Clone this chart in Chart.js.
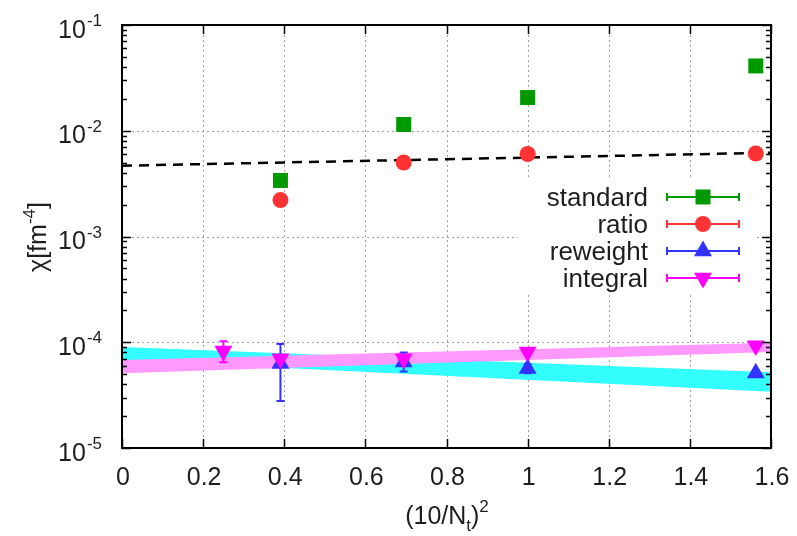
<!DOCTYPE html>
<html><head><meta charset="utf-8">
<script src="https://cdn.jsdelivr.net/npm/chart.js@4.4.0/dist/chart.umd.min.js"></script>
<style>html,body{margin:0;padding:0;background:#fff}</style>
</head><body>
<canvas id="c" width="797" height="536"></canvas>
<script>
// ---- data ----
const xTickValues = [0, 0.2, 0.4, 0.6, 0.8, 1.0, 1.2, 1.4, 1.6];
const xTickLabels = ['0', '0.2', '0.4', '0.6', '0.8', '1', '1.2', '1.4', '1.6'];
const yTickValues = [1e-5, 1e-4, 1e-3, 1e-2, 1e-1];
const yTickExponents = ['-5', '-4', '-3', '-2', '-1'];

const standardX = [0.390625, 0.694444, 1.0, 1.5625];
const standardY = [3.39e-3, 1.146e-2, 2.06e-2, 4.1e-2];
const ratioX = [0.390625, 0.694444, 1.0, 1.5625];
const ratioY = [2.21e-3, 5.01e-3, 6.03e-3, 6.09e-3];
const reweightX = [0.390625, 0.694444, 1.0, 1.5625];
const reweightY = [6.3e-5, 6.5e-5, 5.63e-5, 5.1e-5];
const reweightLo = [2.78e-5, 5.3e-5, 5.1e-5, 4.9e-5];
const reweightHi = [9.6e-5, 8.0e-5, 6.2e-5, 5.3e-5];
const integralX = [0.25, 0.390625, 0.694444, 1.0, 1.5625];
const integralY = [8.26e-5, 6.98e-5, 6.98e-5, 8.1e-5, 9.3e-5];
const integralLo = [6.46e-5, 6.6e-5, 6.6e-5, 7.8e-5, 9.0e-5];
const integralHi = [1.02e-4, 7.4e-5, 7.4e-5, 8.4e-5, 9.6e-5];

const fitX = [0, 1.6];
const fitY = [4.67e-3, 6.2e-3];
const bandX = [0, 1.6];
const cyanUpper = [9.0e-5, 5.2e-5];
const cyanLower = [6.8e-5, 3.4e-5];
const pinkUpper = [6.8e-5, 9.9e-5];
const pinkLower = [5.1e-5, 8.1e-5];

const legendNames = ['standard', 'ratio', 'reweight', 'integral'];
const xTitle = ['(10/N', 't', ')', '2'];
const yTitle = ['χ[fm', '-4', ']'];

// ---- helpers ----
const pts = (xs, ys) => xs.map((x, i) => ({x: x, y: ys[i]}));
const FONT = '"Liberation Sans", Arial, sans-serif';
const TXT = '#1e1e1e';
const GREEN = '#009900', RED = '#ff3333', BLUE = '#3333ff', MAG = '#ff00ff';

const datasets = [
  {label: 'standard', data: pts(standardX, standardY), showLine: false, pointStyle: 'rect',
   pointRadius: 10.6, backgroundColor: GREEN, borderWidth: 0, order: 1},
  {label: 'ratio', data: pts(ratioX, ratioY), showLine: false, pointStyle: 'circle',
   pointRadius: 8, backgroundColor: RED, borderWidth: 0, order: 2},
  {label: 'reweight', data: pts(reweightX, reweightY), showLine: false, pointStyle: 'triangle',
   pointRadius: 10.4, backgroundColor: BLUE, borderWidth: 0, order: 4,
   errLo: reweightLo, errHi: reweightHi},
  {label: 'integral', data: pts(integralX, integralY), showLine: false, pointStyle: 'triangle',
   pointRotation: 180, pointRadius: 10.4, backgroundColor: MAG, borderWidth: 0, order: 3,
   errLo: integralLo, errHi: integralHi},
  {type: 'line', label: 'fit', data: pts(fitX, fitY), borderColor: '#000', borderWidth: 2.5,
   borderDash: [10, 7], pointRadius: 0, fill: false, order: 9},
  {type: 'line', label: 'cyanLo', data: pts(bandX, cyanLower), borderWidth: 0, pointRadius: 0,
   fill: false, order: 13},
  {type: 'line', label: 'cyanHi', data: pts(bandX, cyanUpper), borderWidth: 0, pointRadius: 0,
   fill: '-1', backgroundColor: '#33ffff', order: 12},
  {type: 'line', label: 'pinkLo', data: pts(bandX, pinkLower), borderWidth: 0, pointRadius: 0,
   fill: false, order: 11},
  {type: 'line', label: 'pinkHi', data: pts(bandX, pinkUpper), borderWidth: 0, pointRadius: 0,
   fill: '-1', backgroundColor: '#ff99ff', order: 10},
];

function drawMarker(ctx, style, x, y, r, color, rot) {
  ctx.save();
  ctx.fillStyle = color;
  ctx.beginPath();
  if (style === 'rect') {
    const s = Math.SQRT1_2 * r;
    ctx.rect(x - s, y - s, 2 * s, 2 * s);
  } else if (style === 'circle') {
    ctx.arc(x, y, r, 0, Math.PI * 2);
  } else {
    let a = rot ? Math.PI : 0;
    for (let k = 0; k < 3; k++) {
      const px = x + Math.sin(a) * r, py = y - Math.cos(a) * r;
      if (k === 0) ctx.moveTo(px, py); else ctx.lineTo(px, py);
      a += 2 * Math.PI / 3;
    }
    ctx.closePath();
  }
  ctx.fill();
  ctx.restore();
}

const custom = {
  id: 'custom',
  beforeDatasetsDraw(chart) {
    const ctx = chart.ctx, a = chart.chartArea, xs = chart.scales.x, ys = chart.scales.y;
    ctx.save();
    ctx.strokeStyle = '#a0a0a0';
    ctx.lineWidth = 1;
    ctx.setLineDash([2, 3]);
    xTickValues.forEach(v => {
      if (v <= xs.min || v >= xs.max) return;
      const px = Math.round(xs.getPixelForValue(v)) + 0.5;
      ctx.beginPath(); ctx.moveTo(px, a.top); ctx.lineTo(px, a.bottom); ctx.stroke();
    });
    yTickValues.forEach(v => {
      if (v <= ys.min || v >= ys.max) return;
      const py = Math.round(ys.getPixelForValue(v)) + 0.5;
      ctx.beginPath(); ctx.moveTo(a.left, py); ctx.lineTo(a.right, py); ctx.stroke();
    });
    ctx.restore();
  },
  beforeDatasetDraw(chart, args) {
    const ds = chart.data.datasets[args.index];
    if (!ds.errLo) return;
    const ctx = chart.ctx, a = chart.chartArea, xs = chart.scales.x, ys = chart.scales.y;
    ctx.save();
    ctx.beginPath(); ctx.rect(a.left, a.top, a.right - a.left, a.bottom - a.top); ctx.clip();
    ctx.strokeStyle = ds.backgroundColor;
    ctx.lineWidth = 2;
    ds.data.forEach((p, i) => {
      const px = xs.getPixelForValue(p.x);
      const y1 = ys.getPixelForValue(ds.errLo[i]), y2 = ys.getPixelForValue(ds.errHi[i]);
      ctx.beginPath();
      ctx.moveTo(px, y1); ctx.lineTo(px, y2);
      ctx.moveTo(px - 4, y1); ctx.lineTo(px + 4, y1);
      ctx.moveTo(px - 4, y2); ctx.lineTo(px + 4, y2);
      ctx.stroke();
    });
    ctx.restore();
  },
  afterDatasetsDraw(chart) {
    const ctx = chart.ctx, a = chart.chartArea, xs = chart.scales.x, ys = chart.scales.y;
    ctx.save();
    // legend
    ctx.fillStyle = '#fff';
    ctx.fillRect(518, 177, 239, 115);
    const styles = [['rect', 10.6, GREEN, false], ['circle', 8, RED, false],
                    ['triangle', 10.4, BLUE, false], ['triangle', 10.4, MAG, true]];
    ctx.font = '26px ' + FONT;
    ctx.textAlign = 'right';
    ctx.textBaseline = 'alphabetic';
    legendNames.forEach((n, i) => {
      const yy = 197 + 27 * i;
      ctx.fillStyle = TXT;
      ctx.fillText(n, 648, yy + 9);
      const st = styles[i];
      ctx.strokeStyle = st[2];
      ctx.lineWidth = 2;
      ctx.beginPath();
      ctx.moveTo(667, yy); ctx.lineTo(739, yy);
      ctx.moveTo(667, yy - 4); ctx.lineTo(667, yy + 4);
      ctx.moveTo(739, yy - 4); ctx.lineTo(739, yy + 4);
      ctx.stroke();
      drawMarker(ctx, st[0], 703, yy, st[1], st[2], st[3]);
    });
    // frame
    ctx.strokeStyle = '#000';
    ctx.lineWidth = 2;
    ctx.strokeRect(a.left, a.top, a.right - a.left, a.bottom - a.top);
    // ticks
    ctx.lineWidth = 1.5;
    ctx.beginPath();
    xTickValues.forEach(v => {
      const px = Math.round(xs.getPixelForValue(v)) + 0.5;
      ctx.moveTo(px, a.bottom); ctx.lineTo(px, a.bottom - 9);
      ctx.moveTo(px, a.top); ctx.lineTo(px, a.top + 9);
    });
    for (let e = -5; e < -1 + 0.5; e++) {
      for (let m = 1; m <= 9; m++) {
        const v = m * Math.pow(10, e);
        if (v > ys.max * 1.0001) continue;
        const py = Math.round(ys.getPixelForValue(v)) + 0.5;
        const L = m === 1 ? 9 : 5;
        ctx.moveTo(a.left, py); ctx.lineTo(a.left + L, py);
        ctx.moveTo(a.right, py); ctx.lineTo(a.right - L, py);
      }
    }
    ctx.stroke();
    // x tick labels
    ctx.fillStyle = TXT;
    ctx.font = '25px ' + FONT;
    ctx.textAlign = 'center';
    xTickValues.forEach((v, i) => {
      ctx.fillText(xTickLabels[i], xs.getPixelForValue(v) + 1, 485);
    });
    // y tick labels
    yTickValues.forEach((v, i) => {
      const py = ys.getPixelForValue(v);
      ctx.font = '17px ' + FONT;
      const w2 = ctx.measureText(yTickExponents[i]).width;
      ctx.textAlign = 'left';
      ctx.fillText(yTickExponents[i], 102 - w2, py + 1);
      ctx.font = '25px ' + FONT;
      ctx.textAlign = 'right';
      ctx.fillText('10', 102 - w2 - 1, py + 12.5);
    });
    // x title
    ctx.textAlign = 'left';
    ctx.font = '25px ' + FONT;
    const wA = ctx.measureText(xTitle[0]).width;
    const wC = ctx.measureText(xTitle[2]).width;
    ctx.font = '17px ' + FONT;
    const wB = ctx.measureText(xTitle[1]).width;
    const wD = ctx.measureText(xTitle[3]).width;
    let x0 = 447 - (wA + wB + wC + wD) / 2;
    ctx.font = '25px ' + FONT;
    ctx.fillText(xTitle[0], x0, 524);
    ctx.font = '17px ' + FONT;
    ctx.fillText(xTitle[1], x0 + wA, 531);
    ctx.font = '25px ' + FONT;
    ctx.fillText(xTitle[2], x0 + wA + wB, 524);
    ctx.font = '17px ' + FONT;
    ctx.fillText(xTitle[3], x0 + wA + wB + wC, 512);
    // y title (rotated)
    ctx.save();
    ctx.translate(46, 237);
    ctx.rotate(-Math.PI / 2);
    ctx.font = '25px ' + FONT;
    const yA = ctx.measureText(yTitle[0]).width;
    const yC = ctx.measureText(yTitle[2]).width;
    ctx.font = '17px ' + FONT;
    const yB = ctx.measureText(yTitle[1]).width;
    let t0 = -(yA + yB + yC) / 2;
    ctx.font = '25px ' + FONT;
    ctx.fillText(yTitle[0], t0, 0);
    ctx.font = '17px ' + FONT;
    ctx.fillText(yTitle[1], t0 + yA, -11.5);
    ctx.font = '25px ' + FONT;
    ctx.fillText(yTitle[2], t0 + yA + yB, 0);
    ctx.restore();
    ctx.restore();
  }
};

new Chart(document.getElementById('c'), {
  type: 'scatter',
  data: {datasets: datasets},
  options: {
    responsive: false,
    animation: false,
    devicePixelRatio: 1,
    layout: {padding: {left: 122, top: 25, right: 26, bottom: 88}},
    scales: {
      x: {type: 'linear', min: 0, max: 1.6, display: false},
      y: {type: 'logarithmic', min: 1e-5, max: 1e-1, display: false}
    },
    plugins: {legend: {display: false}, tooltip: {enabled: false}}
  },
  plugins: [custom]
});
</script>
</body></html>
